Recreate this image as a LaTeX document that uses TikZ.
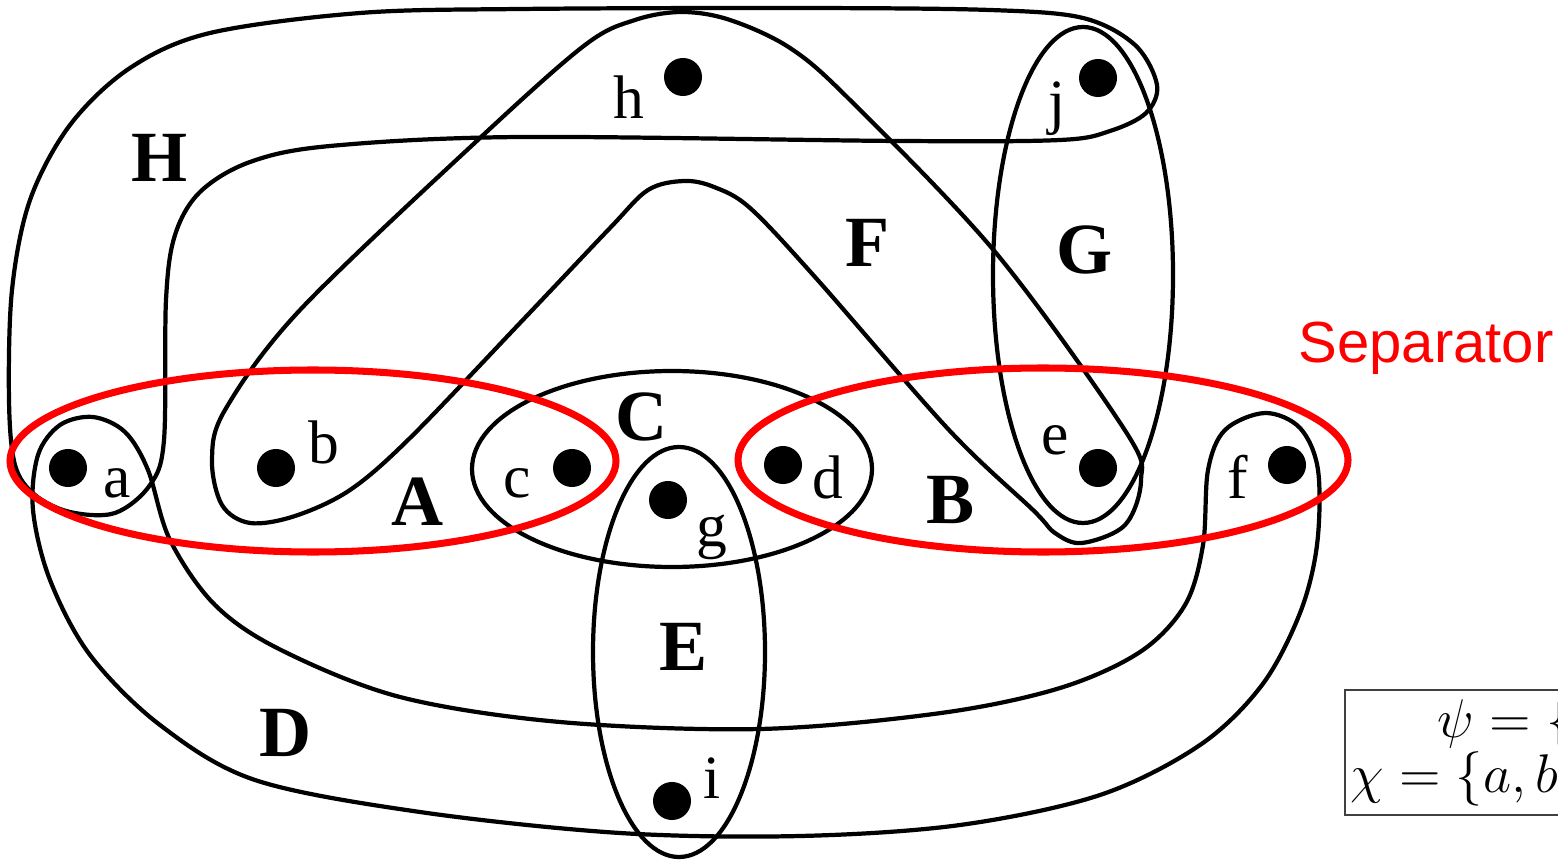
\RequirePackage{fix-cm}
\documentclass[tikz,border=0pt]{standalone}
\usepackage{fontspec}
\newfontfamily\lblfont{Liberation Serif}
\newfontfamily\sepfont{Liberation Sans}
\usetikzlibrary{positioning}

\begin{document}
\begin{tikzpicture}[x=0.01cm,y=-0.01cm,
  hedge/.style={draw,line width=1.2pt},
  sepedge/.style={draw=red,line width=2pt},
  vtx/.style={circle,fill,inner sep=0pt,minimum size=0.38cm},
  vlbl/.style={font=\lblfont\fontsize{17.5}{20}\selectfont,inner sep=0pt},
  elbl/.style={font=\lblfont\bfseries\fontsize{20.5}{24}\selectfont,inner sep=0pt},
  frm/.style={font=\fontsize{15.5}{18}\selectfont,inner sep=0pt,anchor=base west}]
  \useasboundingbox (0,0) rectangle (1558,861);

  \draw[hedge] plot[smooth cycle,tension=0.55] coordinates {(15,465) (9,400) (12,290) (30,200) (70,125) (130,68) (210,33) (360,13) (520,9) (800,8) (990,10) (1083,18) (1135,45) (1157,85) (1146,113) (1110,131) (1060,140) (900,141) (520,137) (330,146) (250,162) (200,192) (175,235) (166,300) (164,440) (150,485) (115,513) (70,512) (35,495)};
  \draw[hedge] plot[smooth cycle,tension=0.55] coordinates {(682,12) (730,20) (790,48) (850,100) (996,253) (1126,432) (1141,480) (1125,525) (1082,543) (1055,533) (1033,510) (949,430) (815,277) (750,208) (714,187) (684,181) (648,190) (610,228) (520,323) (410,438) (350,490) (295,516) (250,523) (222,505) (212,460) (225,410) (300,310) (480,138) (585,45) (635,20)};
  \draw[hedge] plot[smooth cycle,tension=0.55] coordinates {(93,417) (125,432) (148,470) (170,540) (215,605) (281,650) (400,697) (560,722) (760,729) (941,713) (1060,688) (1140,652) (1185,605) (1203,545) (1208,470) (1225,430) (1265,413) (1300,428) (1318,470) (1317,545) (1300,613) (1262,685) (1200,745) (1100,795) (960,825) (800,836) (620,833) (420,812) (255,780) (160,725) (90,655) (50,580) (33,510) (38,455) (60,425)};
  \draw[hedge] (1083,275) ellipse [x radius=90, y radius=248];
  \draw[hedge] (672,469) ellipse [x radius=200, y radius=98];
  \draw[hedge] (679,652) ellipse [x radius=86, y radius=205];
  \draw[sepedge] (313,461) ellipse [x radius=303, y radius=91];
  \draw[sepedge] (1043,460) ellipse [x radius=305, y radius=92];

  \node[vtx] (a) at (68,468) {};
  \node[vtx] (b) at (276,468) {};
  \node[vtx] (c) at (572,468) {};
  \node[vtx] (d) at (783,465) {};
  \node[vtx] (e) at (1098,468) {};
  \node[vtx] (f) at (1287,465) {};
  \node[vtx] (g) at (668,500) {};
  \node[vtx] (h) at (683,77) {};
  \node[vtx] (i) at (672,801) {};
  \node[vtx] (j) at (1098,78) {};

  \node[vlbl] (la) at (117,483) {a};
  \node[vlbl] (lb) at (324,442) {b};
  \node[vlbl] (lc) at (517,483) {c};
  \node[vlbl] (ld) at (828,477) {d};
  \node[vlbl] (le) at (1055,440) {e};
  \node[vlbl] (lf) at (1238,477) {f};
  \node[vlbl] (lg) at (712,537) {g};
  \node[vlbl] (lh) at (629,97) {h};
  \node[vlbl] (li) at (712,778) {i};
  \node[vlbl] (lj) at (1057,109) {j};

  \node[elbl] (eH) at (160,158) {H};
  \node[elbl] (eF) at (868,243) {F};
  \node[elbl] (eG) at (1085,250) {G};
  \node[elbl] (eC) at (642,417) {C};
  \node[elbl] (eA) at (418,502) {A};
  \node[elbl] (eB) at (951,500) {B};
  \node[elbl] (eE) at (684,647) {E};
  \node[elbl] (eD) at (286,733) {D};

  \node[font=\sepfont\fontsize{16.5}{20}\selectfont,text=red,inner sep=0pt,anchor=base west] (sep) at (1298,363) {Separator};

  \draw[line width=0.5pt,black!75] (1345,690) rectangle (1700,815);
  \node[frm] (psi) at (1437,737) {$\psi=\{$};
  \node[frm] (chi) at (1350,792) {$\chi=\{a,b$};
\end{tikzpicture}
\end{document}
